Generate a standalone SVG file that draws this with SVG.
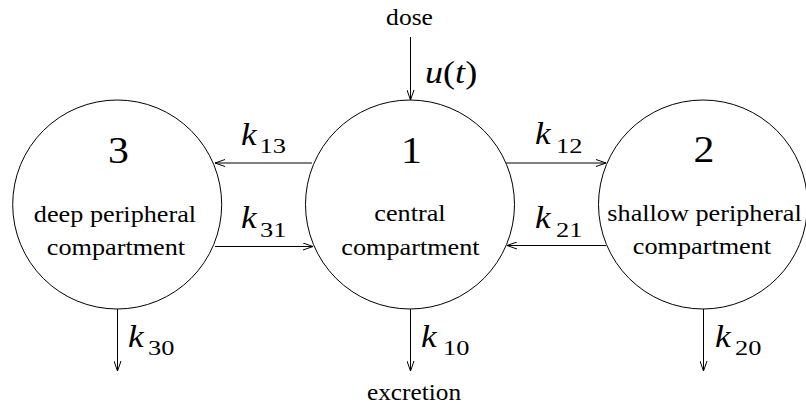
<svg xmlns="http://www.w3.org/2000/svg" width="806" height="407" viewBox="0 0 806 407">
<defs>
<marker id="ah" markerUnits="userSpaceOnUse" viewBox="0 0 10 8" markerWidth="10" markerHeight="8" refX="10" refY="4" orient="auto">
<path d="M0,0.5 L10,4 L0,7.5" fill="none" stroke="#000" stroke-width="1"/>
</marker>
</defs>
<g id="node3" font-family="Liberation Serif" text-anchor="middle" font-size="23">
<circle cx="117.2" cy="204.5" r="104.5" fill="#fff" stroke="#000"/>
<text transform="translate(118.5 163) scale(1.1 1)" font-size="38">3</text>
<text transform="translate(115 221.5) scale(1.14 1)">deep peripheral</text>
<text transform="translate(116 255) scale(1.14 1)">compartment</text>
</g>
<g id="node1" font-family="Liberation Serif" text-anchor="middle" font-size="23">
<circle cx="410" cy="204.5" r="104.5" fill="#fff" stroke="#000"/>
<text transform="translate(411.5 163) scale(1.1 1)" font-size="38">1</text>
<text transform="translate(410 221) scale(1.14 1)">central</text>
<text transform="translate(410.5 254.5) scale(1.14 1)">compartment</text>
</g>
<g id="node2" font-family="Liberation Serif" text-anchor="middle" font-size="23">
<circle cx="703" cy="204.5" r="104.5" fill="#fff" stroke="#000"/>
<text transform="translate(704 162) scale(1.1 1)" font-size="38">2</text>
<text transform="translate(704.5 220.7) scale(1.14 1)">shallow peripheral</text>
<text transform="translate(702 254) scale(1.14 1)">compartment</text>
</g>
<g id="connectors" stroke="#000" stroke-width="1" fill="none" marker-end="url(#ah)">
<line x1="410.5" y1="37" x2="410.5" y2="100"/>
<line x1="312" y1="163" x2="215" y2="163"/>
<line x1="506" y1="163" x2="606" y2="163"/>
<line x1="215" y1="246.5" x2="313" y2="246.5"/>
<line x1="606" y1="245.5" x2="507" y2="245.5"/>
<line x1="117.5" y1="309" x2="117.5" y2="371"/>
<line x1="410.5" y1="309" x2="410.5" y2="371"/>
<line x1="703.5" y1="309" x2="703.5" y2="371"/>
</g>
<g id="labels" font-family="Liberation Serif" font-size="23">
<text transform="translate(409.5 25) scale(1.11 1)" text-anchor="middle">dose</text>
<text transform="translate(414 400) scale(1.1 1)" text-anchor="middle">excretion</text>
<text transform="translate(425 83) scale(1.13 1)" font-size="32"><tspan font-style="italic">u</tspan>(<tspan font-style="italic">t</tspan>)</text>
<g font-size="32" font-style="italic">
<text transform="translate(241 145) scale(1.1 1)">k</text>
<text transform="translate(241 228) scale(1.1 1)">k</text>
<text transform="translate(535 143.5) scale(1.1 1)">k</text>
<text transform="translate(535 228) scale(1.1 1)">k</text>
<text transform="translate(128 347) scale(1.1 1)">k</text>
<text transform="translate(421 347) scale(1.1 1)">k</text>
<text transform="translate(715 347) scale(1.1 1)">k</text>
</g>
<g font-size="22">
<text transform="translate(259.5 153) scale(1.2 1)">13</text>
<text transform="translate(260 236.5) scale(1.2 1)">31</text>
<text transform="translate(556 153) scale(1.2 1)">12</text>
<text transform="translate(556 236.5) scale(1.2 1)">21</text>
<text transform="translate(148 354.5) scale(1.2 1)">30</text>
<text transform="translate(443 354.5) scale(1.2 1)">10</text>
<text transform="translate(735 354.5) scale(1.2 1)">20</text>
</g>
</g>
</svg>
